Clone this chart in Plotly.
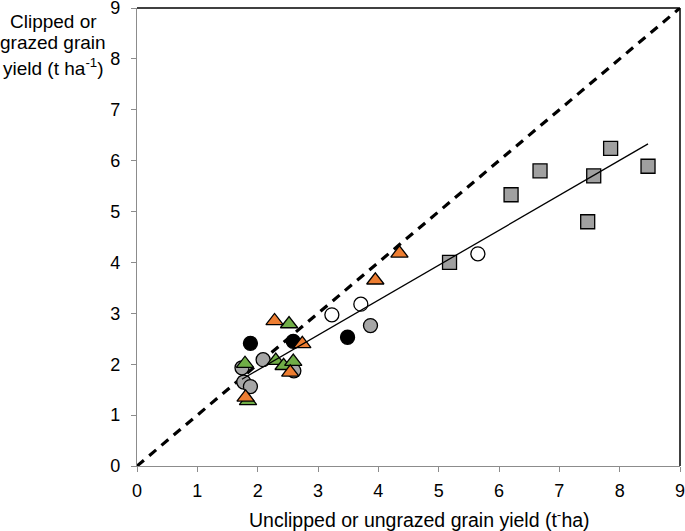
import numpy as np
import plotly.graph_objects as go

# Data (t/ha)
gray_circle_x = [1.74, 1.77, 1.88, 2.09, 2.60, 3.87]
gray_circle_y = [1.93, 1.65, 1.56, 2.09, 1.87, 2.76]
black_circle_x = [1.88, 2.59, 3.49]
black_circle_y = [2.41, 2.45, 2.53]
open_circle_x = [3.23, 3.71, 5.65]
open_circle_y = [2.97, 3.18, 4.17]
orange_tri_x = [1.80, 2.28, 2.54, 2.74, 3.95, 4.35]
orange_tri_y = [1.35, 2.85, 1.84, 2.40, 3.65, 4.18]
green_tri_x = [1.79, 1.84, 2.30, 2.43, 2.52, 2.59]
green_tri_y = [2.01, 1.28, 2.07, 1.97, 2.79, 2.05]
square_x = [5.18, 6.20, 6.68, 7.47, 7.57, 7.85, 8.47]
square_y = [4.00, 5.33, 5.80, 4.80, 5.70, 6.24, 5.89]

one_to_one = [0, 9]
trend_slope = 0.687
trend_intercept = 0.51
tick_vals = list(range(0, 10))
y_title_lines = ["Clipped or", "grazed grain", "yield (t ha<sup>-1</sup>)"]
x_title = "Unclipped or ungrazed grain yield (t<sup>-</sup>ha)"

FONT = "Liberation Sans, Arial, sans-serif"

fig = go.Figure()

fig.add_trace(go.Scatter(x=one_to_one, y=one_to_one, mode="lines",
                         line=dict(color="black", width=3.2, dash="9px,7px"),
                         hoverinfo="skip", showlegend=False, cliponaxis=False))

def add_markers(x, y, symbol, fill, size):
    fig.add_trace(go.Scatter(x=x, y=y, mode="markers", showlegend=False,
                             cliponaxis=False,
                             marker=dict(symbol=symbol, size=size, color=fill,
                                         line=dict(color="black", width=1.3))))

add_markers(square_x, square_y, "square", "#A0A0A0", 14)
add_markers(gray_circle_x, gray_circle_y, "circle", "#A6A6A6", 14)
add_markers(black_circle_x, black_circle_y, "circle", "black", 14)
add_markers(open_circle_x, open_circle_y, "circle", "white", 14)
add_markers(green_tri_x, green_tri_y, "triangle-up", "#70AD47", 15)
add_markers(orange_tri_x, orange_tri_y, "triangle-up", "#ED7D31", 15)

all_x = gray_circle_x + black_circle_x + open_circle_x + orange_tri_x + green_tri_x + square_x
tx = np.array([min(all_x), max(all_x)])
fig.add_trace(go.Scatter(x=tx, y=trend_slope * tx + trend_intercept, mode="lines",
                         line=dict(color="black", width=1.3),
                         hoverinfo="skip", showlegend=False))

axis_common = dict(range=[0, 9], tickvals=tick_vals, showgrid=False, zeroline=False,
                   showline=True, linecolor="#8c8c8c", linewidth=1.2,
                   ticks="outside", ticklen=5, tickcolor="#8c8c8c", tickwidth=1.2,
                   ticklabeloverflow="allow", automargin=False,
                   tickfont=dict(family=FONT, size=18, color="black"))

TOP = 8
annotations = []
for txt, top in zip(y_title_lines, [9, 30, 53]):
    annotations.append(dict(text=txt, xref="paper", yref="paper",
                            x=(53 - 137) / 543, y=1.0, yshift=-(top - TOP),
                            xanchor="center", yanchor="top", showarrow=False,
                            font=dict(family=FONT, size=19, color="black")))
annotations.append(dict(text=x_title, xref="paper", yref="paper", x=0.521, y=0,
                        yshift=-39, xanchor="center", yanchor="top", showarrow=False,
                        font=dict(family=FONT, size=19.5, color="black")))

fig.update_layout(
    width=685, height=531,
    margin=dict(l=137, r=5, t=TOP, b=65),
    paper_bgcolor="white", plot_bgcolor="white",
    xaxis=dict(**axis_common, ticklabelstandoff=3),
    yaxis=dict(**axis_common, ticklabelstandoff=7),
    shapes=[
        dict(type="line", xref="paper", yref="paper", x0=0, x1=1, y0=1, y1=1,
             line=dict(color="black", width=1.5)),
        dict(type="line", xref="paper", yref="paper", x0=1, x1=1, y0=0, y1=1,
             line=dict(color="black", width=1.5)),
    ],
    annotations=annotations,
)

fig.write_html("out.html", config={"displayModeBar": False},
               post_script="document.body.style.margin='0';document.body.style.overflow='hidden';")
